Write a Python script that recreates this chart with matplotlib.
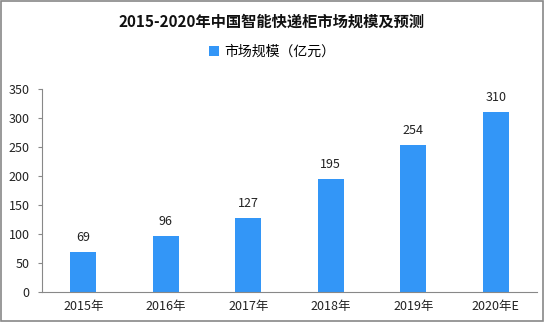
import matplotlib

matplotlib.use("Agg")
import matplotlib.pyplot as plt
from matplotlib.patches import Rectangle

plt.rcParams["font.family"] = ["Noto Sans CJK SC", "DejaVu Sans"]

years = ["2015年", "2016年", "2017年", "2018年", "2019年", "2020年E"]
market_size = [69, 96, 127, 195, 254, 310]
title = "2015-2020年中国智能快递柜市场规模及预测"
legend_label = "市场规模（亿元）"

bar_color = "#3396f7"

fig = plt.figure(figsize=(5.44, 3.22), dpi=100)
ax = fig.add_axes([42 / 544, 30 / 322, 495 / 544, 203 / 322])

x = range(len(years))
bars = ax.bar(x, market_size, width=0.32, color=bar_color, label=legend_label)
for xi, v in zip(x, market_size):
    ax.text(xi, v + 14, str(v), ha="center", va="bottom", fontsize=9, color="#222222")

ax.set_xlim(-0.5, len(years) - 0.5)
ax.set_ylim(0, 350)
ax.set_yticks(range(0, 351, 50))
ax.set_xticks(list(x))
ax.set_xticklabels(years)
ax.tick_params(axis="x", length=0, labelsize=9, pad=6, colors="#222222")
ax.tick_params(axis="y", length=3, labelsize=9, pad=6, colors="#222222", color="#888888")
for side in ("top", "right"):
    ax.spines[side].set_visible(False)
for side in ("left", "bottom"):
    ax.spines[side].set_color("#888888")
    ax.spines[side].set_linewidth(0.8)

fig.text(0.5, 1 - 22 / 322, title, ha="center", va="center", fontsize=11, fontweight="bold", color="#111111")
fig.legend(handles=[bars], labels=[legend_label], loc="center", bbox_to_anchor=(0.5, 1 - 52 / 322),
           frameon=False, fontsize=10, handlelength=0.7, handleheight=0.7, handletextpad=0.4)

fig.patches.append(Rectangle((0.001, 0.002), 0.997, 0.995, transform=fig.transFigure,
                             fill=False, edgecolor="#888888", linewidth=1.2))

fig.savefig("out.png", dpi=100)
